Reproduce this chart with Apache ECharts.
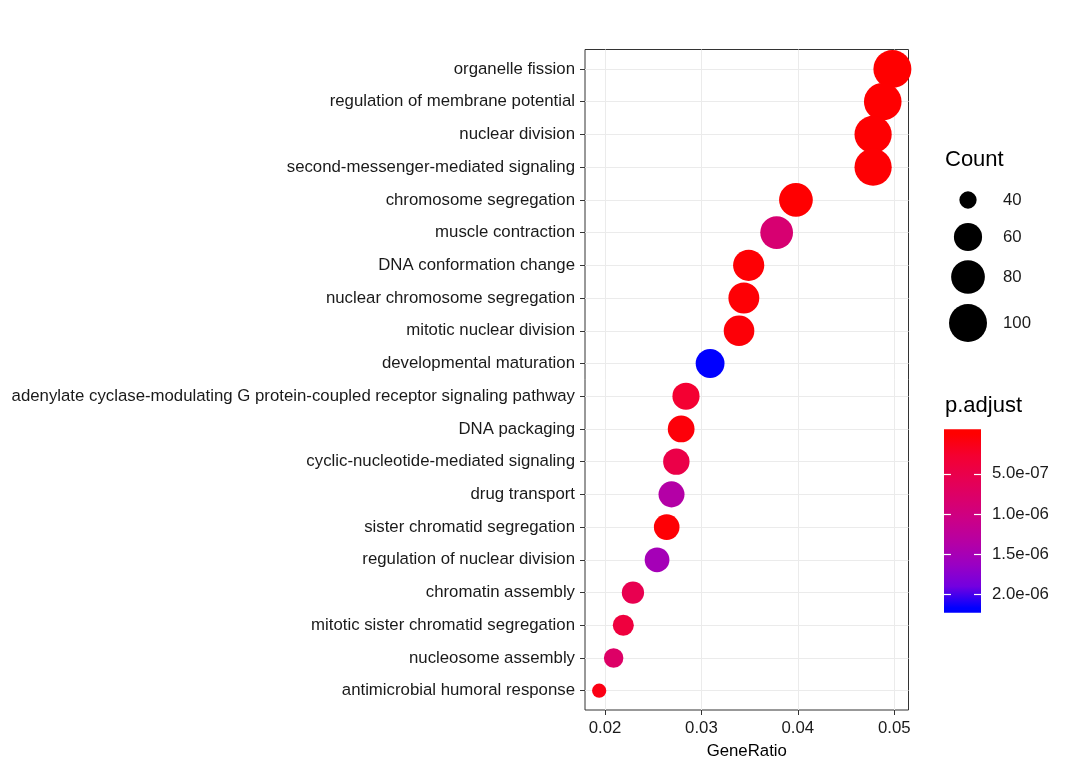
<!DOCTYPE html>
<html><head><meta charset="utf-8">
<script src="https://cdn.jsdelivr.net/npm/echarts@6/dist/echarts.min.js"></script>
<style>html,body{margin:0;padding:0;background:#fff}#c{width:1080px;height:771px}</style>
</head><body><div id="c"></div>
<script>
const categories = [
  'organelle fission',
  'regulation of membrane potential',
  'nuclear division',
  'second-messenger-mediated signaling',
  'chromosome segregation',
  'muscle contraction',
  'DNA conformation change',
  'nuclear chromosome segregation',
  'mitotic nuclear division',
  'developmental maturation',
  'adenylate cyclase-modulating G protein-coupled receptor signaling pathway',
  'DNA packaging',
  'cyclic-nucleotide-mediated signaling',
  'drug transport',
  'sister chromatid segregation',
  'regulation of nuclear division',
  'chromatin assembly',
  'mitotic sister chromatid segregation',
  'nucleosome assembly',
  'antimicrobial humoral response'
];
const geneRatio = [0.0498, 0.0488, 0.0478, 0.0478, 0.0398, 0.0378, 0.0349, 0.0344, 0.0339, 0.0309,
                   0.0284, 0.0279, 0.0274, 0.0269, 0.0264, 0.0254, 0.0229, 0.0219, 0.0209, 0.0194];
const counts = [100, 98, 96, 96, 80, 76, 70, 69, 68, 62, 57, 56, 55, 54, 53, 51, 46, 44, 42, 39];
const pAdjust = [2e-9, 6e-9, 1.5e-8, 2e-8, 1e-8, 8.6e-7, 2.5e-8, 3e-8, 4e-8, 2.17e-6,
                 2.8e-7, 5e-8, 4.7e-7, 1.37e-6, 3e-8, 1.52e-6, 5.4e-7, 3.9e-7, 7.6e-7, 1.1e-7];
const xTicks = [0.02, 0.03, 0.04, 0.05];
const sizeLegendValues = [40, 60, 80, 100];
const colorbarTicks = [5e-7, 1e-6, 1.5e-6, 2e-6];

// layout constants
const X_MIN = 0.01793, X_MAX = 0.05147;
const FONT = 'Liberation Sans, Arial, sans-serif';
const FS = 16.8;
const legendY = [200, 237, 277, 323];
const CB_W = 37;

// size scale (area, range 3..8)
const cMin = Math.min(...counts), cMax = Math.max(...counts);
function sizeFn(c) { return 4.75 * (3 + 5 * Math.sqrt(Math.max(0, (c - cMin) / (cMax - cMin)))); }

// red -> blue, Lab interpolation sampled
const rampColors = ['#FF0000', '#F40031', '#E80050', '#DA006C', '#CA0089', '#B500A5', '#9A00C3', '#7300E0', '#0000FF'];
const pMin = Math.min(...pAdjust), pMax = Math.max(...pAdjust);
const halfBin = (pMax - pMin) / 40;
const cbMin = pMin - halfBin, cbMax = pMax + halfBin;
const cbStops = [{offset: 0, color: rampColors[0]}].concat(
  rampColors.map((c, j) => ({offset: (0.5 + 19 * j / (rampColors.length - 1)) / 20, color: c})),
  [{offset: 1, color: rampColors[rampColors.length - 1]}]);

function expFmt(v) {
  return v.toExponential(1).replace(/e([+-])(\d)$/, 'e$10$2');
}

const data = categories.map((c, i) => [geneRatio[i], c, counts[i], pAdjust[i]]);

const graphics = [
  {type: 'text', left: 945, top: 149, style: {text: 'Count', font: '22px ' + FONT, fill: '#000'}},
  {type: 'text', left: 945, top: 395, style: {text: 'p.adjust', font: '22px ' + FONT, fill: '#000'}}
];
sizeLegendValues.forEach((v, i) => {
  graphics.push({type: 'circle', shape: {cx: 968, cy: legendY[i], r: sizeFn(v) / 2}, style: {fill: '#000'}});
  graphics.push({type: 'text', x: 1003, y: legendY[i], style: {text: String(v), font: FS + 'px ' + FONT, fill: '#1a1a1a', verticalAlign: 'middle'}});
});

const cbTickAxis = (offset) => ({
  gridIndex: 2, type: 'value', min: cbMin, max: cbMax, inverse: true, position: 'left', offset: offset,
  axisLine: {show: false}, splitLine: {show: false},
  axisTick: {show: true, inside: true, length: 7, customValues: colorbarTicks, lineStyle: {color: '#fff', width: 1.2}},
  axisLabel: {show: false}
});

const chart = echarts.init(document.getElementById('c'), null, {renderer: 'canvas'});
chart.setOption({
  backgroundColor: '#fff',
  animation: false,
  textStyle: {fontFamily: FONT},
  grid: [
    {left: 585, right: 171.5, top: 49.5, bottom: 61, show: true, borderColor: '#333', borderWidth: 1, backgroundColor: 'transparent', containLabel: false},
    {left: 585, right: 171.5, top: 69, bottom: 80.3, containLabel: false},
    {left: 944, top: 429.3, width: CB_W, height: 183.4, show: true, borderWidth: 0,
     backgroundColor: {type: 'linear', x: 0, y: 0, x2: 0, y2: 1, colorStops: cbStops}}
  ],
  xAxis: [
    {gridIndex: 0, type: 'value', min: X_MIN, max: X_MAX, splitNumber: 7, minInterval: 0.005, maxInterval: 0.005,
     axisLine: {show: false},
     axisTick: {show: true, customValues: xTicks, length: 5, lineStyle: {color: '#333'}},
     axisLabel: {customValues: xTicks, formatter: v => v.toFixed(2), fontSize: FS, color: '#1a1a1a', margin: 10},
     splitLine: {show: true, lineStyle: {color: '#EBEBEB', width: 1}},
     name: 'GeneRatio', nameLocation: 'middle', nameGap: 33, nameTextStyle: {fontSize: FS, color: '#000'}},
    {gridIndex: 1, type: 'value', min: X_MIN, max: X_MAX, show: false},
    {gridIndex: 2, type: 'value', min: 0, max: 1, show: false}
  ],
  yAxis: [
    {gridIndex: 0, type: 'value', min: 0, max: 1, show: false},
    {gridIndex: 1, type: 'category', data: categories, inverse: true, boundaryGap: false,
     axisLine: {show: false},
     axisTick: {show: true, interval: 0, length: 5, lineStyle: {color: '#333'}},
     axisLabel: {interval: 0, fontSize: FS, color: '#1a1a1a', margin: 10},
     splitLine: {show: true, interval: 0, lineStyle: {color: '#EBEBEB', width: 1}}},
    {gridIndex: 2, type: 'value', min: cbMin, max: cbMax, inverse: true, position: 'right',
     axisLine: {show: false}, splitLine: {show: false},
     axisTick: {show: false},
     axisLabel: {customValues: colorbarTicks, formatter: expFmt, fontSize: FS, color: '#1a1a1a', margin: 11}},
    cbTickAxis(0),
    cbTickAxis(-(CB_W - 7))
  ],
  visualMap: {type: 'continuous', show: false, seriesIndex: 0, dimension: 3, min: pMin, max: pMax,
              inRange: {color: rampColors}},
  series: [{
    type: 'scatter', xAxisIndex: 1, yAxisIndex: 1, data: data,
    symbol: 'circle', symbolSize: v => sizeFn(v[2]),
    itemStyle: {opacity: 1}
  }],
  graphic: graphics
});
</script></body></html>
